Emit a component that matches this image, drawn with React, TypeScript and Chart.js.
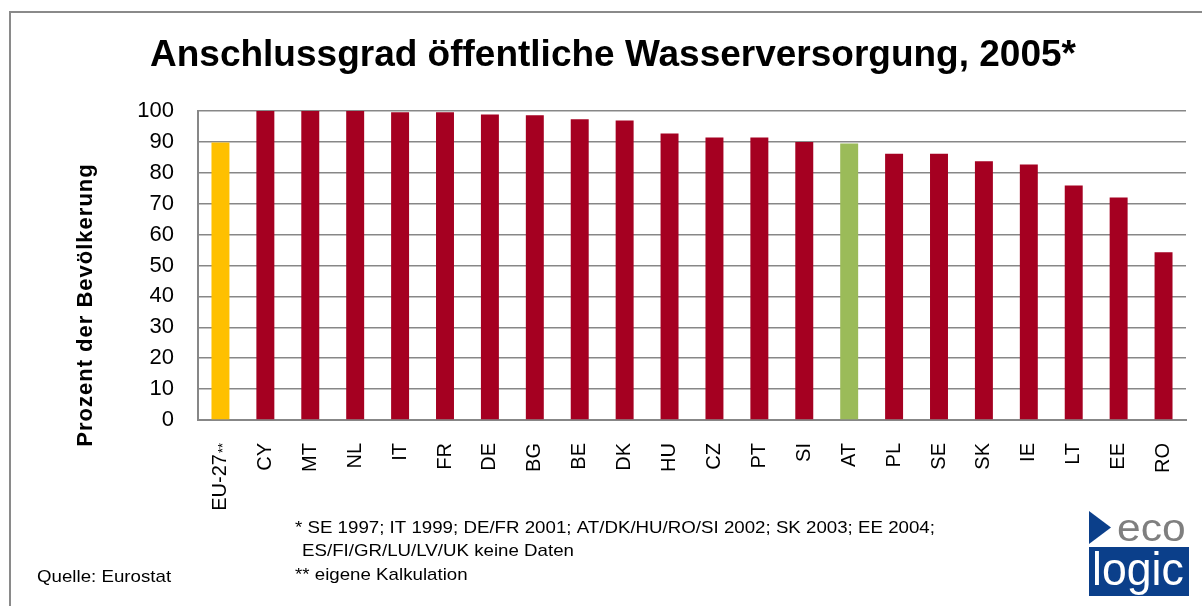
import React, { useEffect, useRef } from "react";
import { Chart, registerables } from "chart.js";

Chart.register(...registerables);

const categories = ["EU-27", "CY", "MT", "NL", "IT", "FR", "DE", "BG", "BE", "DK", "HU", "CZ", "PT", "SI", "AT", "PL", "SE", "SK", "IE", "LT", "EE", "RO"];
const labelSuffix = ["**", "", "", "", "", "", "", "", "", "", "", "", "", "", "", "", "", "", "", "", "", ""];
const values = [89.8, 100, 100, 100, 99.6, 99.6, 98.9, 98.6, 97.3, 96.9, 92.7, 91.4, 91.4, 90.0, 89.5, 86.2, 86.2, 83.7, 82.7, 75.9, 72.0, 54.3];
const barColors = categories.map((c) => (c === "EU-27" ? "#FFC000" : c === "AT" ? "#9BBB59" : "#A50021"));
const yTicks = { min: 0, max: 100, step: 10 };
const titleText = "Anschlussgrad öffentliche Wasserversorgung, 2005*";
const yTitleText = "Prozent der Bevölkerung";
const footnotes = [
  "* SE 1997; IT 1999; DE/FR 2001; AT/DK/HU/RO/SI 2002; SK 2003; EE 2004;",
  "ES/FI/GR/LU/LV/UK keine Daten",
  "** eigene Kalkulation",
];
const sourceText = "Quelle: Eurostat";

const FONT = "'Liberation Sans', Arial, sans-serif";

const decorPlugin = {
  id: "decor",
  afterDraw(chart: any) {
    const ctx = chart.ctx as CanvasRenderingContext2D;
    const xs = chart.scales.x;
    ctx.save();
    // frame
    ctx.fillStyle = "#8a8a8a";
    ctx.fillRect(9, 11, 1202 - 9, 2);
    ctx.fillRect(9, 11, 2, 606 - 11);

    // title
    ctx.fillStyle = "#000";
    ctx.font = `bold 37px ${FONT}`;
    ctx.textAlign = "center";
    ctx.textBaseline = "alphabetic";
    ctx.fillText(titleText, 613, 66);

    // y title
    ctx.save();
    ctx.translate(92, 305);
    ctx.rotate(-Math.PI / 2);
    ctx.font = `bold 22px ${FONT}`;
    (ctx as any).letterSpacing = "1px";
    ctx.textAlign = "center";
    ctx.fillText(yTitleText, 0, 0);
    (ctx as any).letterSpacing = "0px";
    ctx.restore();

    // x labels
    categories.forEach((c, i) => {
      const x = xs.getPixelForValue(i);
      ctx.save();
      ctx.translate(x, 443);
      ctx.rotate(-Math.PI / 2);
      ctx.textAlign = "right";
      ctx.textBaseline = "middle";
      let off = 0;
      const suf = labelSuffix[i];
      if (suf) {
        ctx.font = `13px ${FONT}`;
        ctx.fillText(suf, 0, 3);
        off = ctx.measureText(suf).width + 1;
      }
      ctx.font = `20px ${FONT}`;
      ctx.fillText(c, -off, 0);
      ctx.restore();
    });

    // footnotes
    ctx.textAlign = "left";
    ctx.textBaseline = "alphabetic";
    ctx.font = `17px ${FONT}`;
    const drawScaled = (t: string, x: number, y: number) => {
      ctx.save();
      ctx.translate(x, y);
      ctx.scale(1.1, 1);
      ctx.fillText(t, 0, 0);
      ctx.restore();
    };
    drawScaled(footnotes[0], 295, 533);
    drawScaled(footnotes[1], 302, 556);
    drawScaled(footnotes[2], 295, 580);
    drawScaled(sourceText, 37, 582);
    ctx.restore();
  },
};

export default function App() {
  const ref = useRef<HTMLCanvasElement | null>(null);
  useEffect(() => {
    document.body.style.margin = "0";
    const chart = new Chart(ref.current as HTMLCanvasElement, {
      type: "bar",
      data: {
        labels: categories,
        datasets: [
          {
            data: values,
            backgroundColor: barColors,
            borderWidth: 0,
            barPercentage: 0.4,
            categoryPercentage: 1,
          },
        ],
      },
      options: {
        responsive: false,
        animation: false,
        devicePixelRatio: 1,
        layout: { padding: { top: 111, right: 16, bottom: 0, left: 0 } },
        plugins: { legend: { display: false }, tooltip: { enabled: false }, title: { display: false } },
        scales: {
          x: {
            grid: { display: false },
            border: { display: true, color: "#878787", width: 2 },
            ticks: { display: false },
            afterFit: (s: any) => {
              s.height = 186;
            },
          },
          y: {
            min: yTicks.min,
            max: yTicks.max,
            ticks: {
              stepSize: yTicks.step,
              color: "#000",
              font: { family: FONT, size: 22 },
              padding: 24,
            },
            grid: { color: "#878787", lineWidth: 1.5, drawTicks: false },
            border: { display: true, color: "#878787", width: 2 },
            afterFit: (s: any) => {
              s.width = 198;
            },
          },
        },
      },
      plugins: [decorPlugin],
    });
    return () => chart.destroy();
  }, []);

  return (
    <div style={{ position: "relative", width: 1202, height: 606, background: "#fff", overflow: "hidden" }}>
      <canvas ref={ref} width={1202} height={606} style={{ display: "block" }} />
      <svg width="22" height="33" style={{ position: "absolute", left: 1089, top: 511 }}>
        <polygon points="0,0 22,16.5 0,33" fill="#0B3F8A" />
      </svg>
      <div
        style={{
          position: "absolute",
          left: 1117,
          top: 505,
          fontFamily: FONT,
          fontSize: 38,
          lineHeight: "46px",
          color: "#7f7f7f",
          transform: "scaleX(1.12)",
          transformOrigin: "left top",
        }}
      >
        eco
      </div>
      <div
        style={{
          position: "absolute",
          left: 1089,
          top: 547,
          width: 100,
          height: 49,
          background: "#0B3F8A",
          overflow: "hidden",
        }}
      >
        <div
          style={{
            position: "absolute",
            left: 3,
            top: -5,
            fontFamily: FONT,
            fontSize: 46,
            lineHeight: "54px",
            color: "#fff",
            transform: "scaleX(0.97)",
            transformOrigin: "left top",
          }}
        >
          logic
        </div>
      </div>
    </div>
  );
}
